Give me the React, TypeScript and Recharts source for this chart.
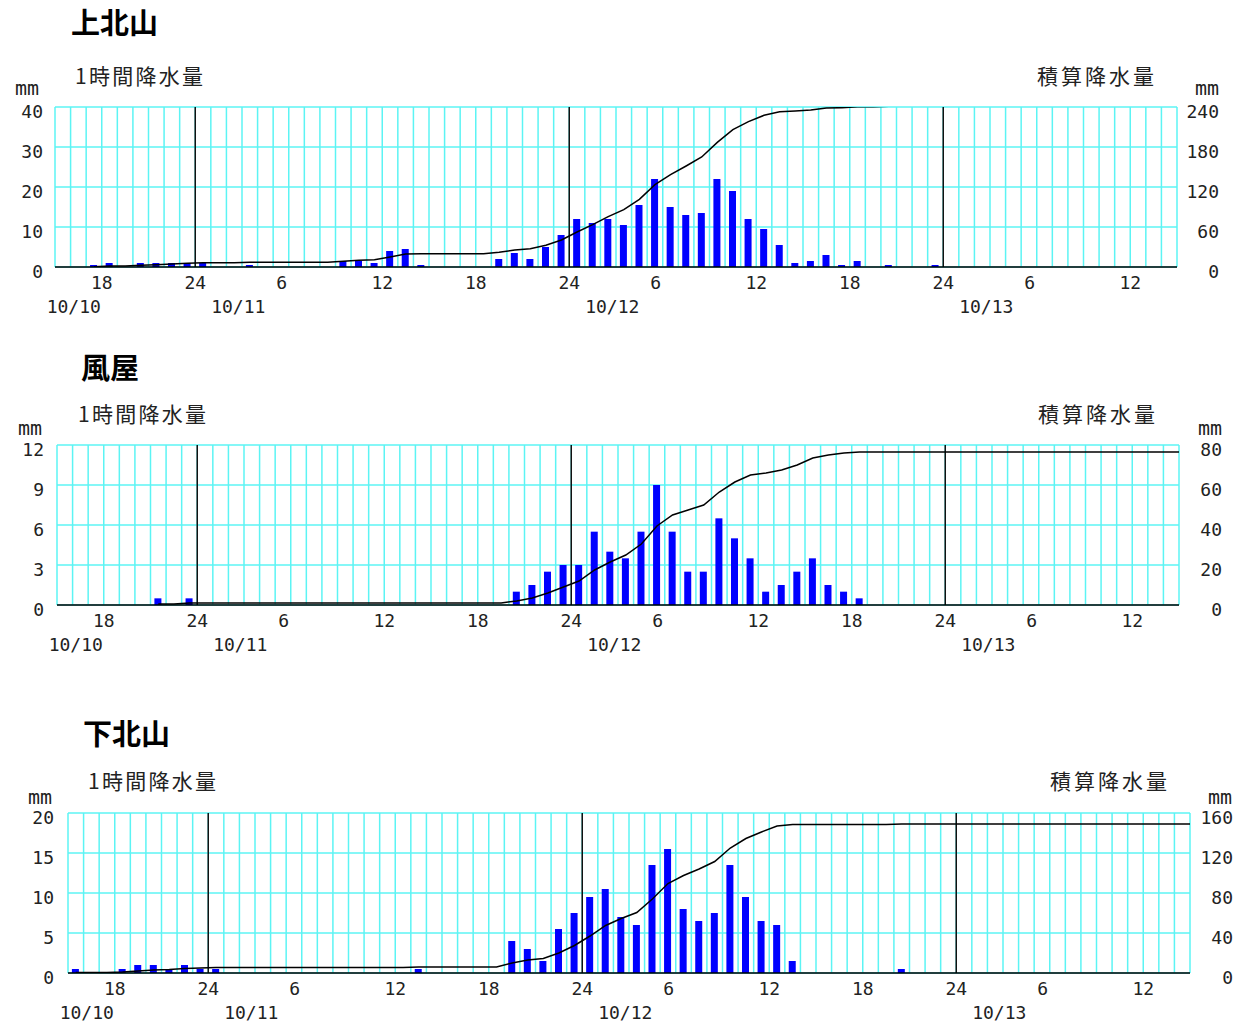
import React from 'react';
import {
  ComposedChart,
  Bar,
  Line,
  XAxis,
  YAxis,
  CartesianGrid,
  ReferenceLine,
} from 'recharts';

// first hourly slot is 10/10 15:00-16:00, 72 slots in all
const START_HOUR = 15;
const SLOTS = 72;
const days = ['10/10', '10/11', '10/12', '10/13'];

// hourly rainfall (mm), one value per slot, 12 slots per row
const kamikitayamaRain = [
  0, 0, 0.5, 1, 0, 1, 1, 1, 1, 1, 0, 0,
  0.5, 0, 0, 0, 0, 0, 1.5, 1.5, 1, 4, 4.5, 0.5,
  0, 0, 0, 0, 2, 3.5, 2, 5, 8, 12, 11, 12,
  10.5, 15.5, 22, 15, 13, 13.5, 22, 19, 12, 9.5, 5.5, 1,
  1.5, 3, 0.5, 1.5, 0, 0.5, 0, 0, 0.5, 0, 0, 0,
  0, 0, 0, 0, 0, 0, 0, 0, 0, 0, 0, 0,
];
const kazeyaRain = [
  0, 0, 0, 0, 0, 0, 0.5, 0, 0.5, 0, 0, 0,
  0, 0, 0, 0, 0, 0, 0, 0, 0, 0, 0, 0,
  0, 0, 0, 0, 0, 1, 1.5, 2.5, 3, 3, 5.5, 4,
  3.5, 5.5, 9, 5.5, 2.5, 2.5, 6.5, 5, 3.5, 1, 1.5, 2.5,
  3.5, 1.5, 1, 0.5, 0, 0, 0, 0, 0, 0, 0, 0,
  0, 0, 0, 0, 0, 0, 0, 0, 0, 0, 0, 0,
];
const shimokitayamaRain = [
  0.5, 0, 0, 0.5, 1, 1, 0.5, 1, 0.5, 0.5, 0, 0,
  0, 0, 0, 0, 0, 0, 0, 0, 0, 0, 0.5, 0,
  0, 0, 0, 0, 4, 3, 1.5, 5.5, 7.5, 9.5, 10.5, 7,
  6, 13.5, 15.5, 8, 6.5, 7.5, 13.5, 9.5, 6.5, 6, 1.5, 0,
  0, 0, 0, 0, 0, 0.5, 0, 0, 0, 0, 0, 0,
  0, 0, 0, 0, 0, 0, 0, 0, 0, 0, 0, 0,
];

const kamikitayamaHourlyTicks = [0, 10, 20, 30, 40];
const kamikitayamaTotalTicks = [0, 60, 120, 180, 240];
const kazeyaHourlyTicks = [0, 3, 6, 9, 12];
const kazeyaTotalTicks = [0, 20, 40, 60, 80];
const shimokitayamaHourlyTicks = [0, 5, 10, 15, 20];
const shimokitayamaTotalTicks = [0, 40, 80, 120, 160];

const GRID = '#5cf4f4';
const NUM_FONT = "'DejaVu Sans Mono', monospace";
const JP_FONT = "'Noto Sans CJK JP', sans-serif";

const hourTicks = Array.from({ length: SLOTS + 1 }, (_, i) => i);
const midnights = hourTicks.filter((t) => t > 0 && t < SLOTS && (START_HOUR + t) % 24 === 0);
const firstLabel = hourTicks.find((t) => t > 0 && (START_HOUR + t) % 6 === 0);

// bars sit in the middle of each hour slot, the total line runs from the first rain to the end
function buildRows(rain: number[]) {
  const first = rain.findIndex((v) => v > 0);
  let sum = 0;
  const rows = rain.map((v, k) => {
    sum += v;
    return { t: k + 0.5, rain: v > 0 ? v : null, cum: k >= first ? sum : null };
  });
  rows.push({ t: SLOTS, rain: null, cum: sum });
  return rows;
}

const renderHourTick = (props: any) => {
  const { x, y, payload } = props;
  const t = payload.value as number;
  const clock = START_HOUR + t;
  const hour = clock % 24;
  if (t <= 0 || t >= SLOTS || hour % 6 !== 0) return <g />;
  const label = hour === 0 ? '24' : String(hour);
  let date: string | null = null;
  let dateX = x;
  if (hour === 0) {
    date = days[Math.floor(clock / 24)];
    dateX = x + 43;
  } else if (t === firstLabel) {
    date = days[0];
    dateX = x - 28;
  }
  return (
    <g>
      <text x={label.length === 1 ? x - 7 : x} y={y + 22} textAnchor="middle" fontFamily={NUM_FONT} fontSize={18} fill="#222">
        {label}
      </text>
      {date && (
        <text x={dateX} y={y + 46} textAnchor="middle" fontFamily={NUM_FONT} fontSize={18} fill="#222">
          {date}
        </text>
      )}
    </g>
  );
};

const valueTick = (dx: number) => (props: any) => {
  const { x, y, payload } = props;
  return (
    <text x={x + dx} y={y + 11} textAnchor="end" fontFamily={NUM_FONT} fontSize={18} fill="#222">
      {payload.value}
    </text>
  );
};

interface PanelProps {
  rain: number[];
  hourlyTicks: number[];
  totalTicks: number[];
  plotTop: number;
  leftW: number;
  rightW: number;
  leftGap: number;
  rightGap: number;
}

const Panel: React.FC<PanelProps> = ({ rain, hourlyTicks, totalTicks, plotTop, leftW, rightW, leftGap, rightGap }) => {
  const rows = buildRows(rain);
  const hMax = hourlyTicks[hourlyTicks.length - 1];
  const tMax = totalTicks[totalTicks.length - 1];
  return (
    <div style={{ position: 'absolute', left: 0, top: plotTop - 5 }}>
      <ComposedChart width={1236} height={225} data={rows} margin={{ top: 5, right: 0, bottom: 0, left: 0 }}>
        <CartesianGrid yAxisId="l" stroke={GRID} strokeWidth={1.5} />
        <XAxis
          type="number"
          dataKey="t"
          domain={[0, SLOTS]}
          ticks={hourTicks}
          interval={0}
          allowDataOverflow
          height={60}
          tickLine={false}
          tickSize={0}
          tickMargin={0}
          axisLine={{ stroke: '#000', strokeWidth: 1.5 }}
          tick={renderHourTick}
        />
        <YAxis
          yAxisId="l"
          orientation="left"
          width={leftW}
          domain={[0, hMax]}
          ticks={hourlyTicks}
          interval={0}
          allowDataOverflow
          axisLine={false}
          tickLine={false}
          tickSize={0}
          tickMargin={0}
          tick={valueTick(-leftGap)}
        />
        <YAxis
          yAxisId="r"
          orientation="right"
          width={rightW}
          domain={[0, tMax]}
          ticks={totalTicks}
          interval={0}
          allowDataOverflow
          axisLine={false}
          tickLine={false}
          tickSize={0}
          tickMargin={0}
          tick={valueTick(rightGap)}
        />
        {midnights.map((t) => (
          <ReferenceLine key={t} x={t} yAxisId="l" stroke="#111" strokeWidth={1.5} />
        ))}
        <Bar dataKey="rain" yAxisId="l" fill="#0000ff" barSize={8} isAnimationActive={false} />
        <Line
          dataKey="cum"
          yAxisId="r"
          type="linear"
          stroke="#000"
          strokeWidth={1.5}
          dot={false}
          activeDot={false}
          isAnimationActive={false}
        />
      </ComposedChart>
    </div>
  );
};

interface Caption {
  title: string;
  titleX: number;
  titleY: number;
  labelY: number;
  hourlyX: number;
  totalX: number;
  mmLeftX: number;
  mmRightX: number;
  mmY: number;
}

const captions: Caption[] = [
  { title: '上北山', titleX: 71, titleY: 33.5, labelY: 83.5, hourlyX: 75, totalX: 1037, mmLeftX: 15, mmRightX: 1195, mmY: 95 },
  { title: '風屋', titleX: 81, titleY: 379, labelY: 421.5, hourlyX: 78, totalX: 1038, mmLeftX: 18, mmRightX: 1198, mmY: 435 },
  { title: '下北山', titleX: 83, titleY: 745, labelY: 788.5, hourlyX: 88, totalX: 1050, mmLeftX: 28, mmRightX: 1208, mmY: 804 },
];

export default function App() {
  return (
    <div style={{ position: 'absolute', left: 0, top: 0, width: 1236, height: 1024, background: '#fff' }}>
      <Panel rain={kamikitayamaRain} hourlyTicks={kamikitayamaHourlyTicks} totalTicks={kamikitayamaTotalTicks}
        plotTop={107} leftW={55} rightW={59} leftGap={12} rightGap={42} />
      <Panel rain={kazeyaRain} hourlyTicks={kazeyaHourlyTicks} totalTicks={kazeyaTotalTicks}
        plotTop={445} leftW={57} rightW={57} leftGap={13} rightGap={43} />
      <Panel rain={shimokitayamaRain} hourlyTicks={shimokitayamaHourlyTicks} totalTicks={shimokitayamaTotalTicks}
        plotTop={813} leftW={68} rightW={46} leftGap={14} rightGap={43} />
      <svg width={1236} height={1024} style={{ position: 'absolute', left: 0, top: 0, pointerEvents: 'none' }}>
        {captions.map((c) => (
          <g key={c.title}>
            <text x={c.titleX} y={c.titleY} fontFamily={JP_FONT} fontSize={29} fontWeight={700} fill="#000">
              {c.title}
            </text>
            <text x={c.hourlyX} y={c.labelY} fontFamily={JP_FONT} fontSize={21} fill="#222"
              textLength={128} lengthAdjust="spacing">
              1時間降水量
            </text>
            <text x={c.totalX} y={c.labelY} fontFamily={JP_FONT} fontSize={21} fill="#222"
              textLength={117} lengthAdjust="spacing">
              積算降水量
            </text>
            <text x={c.mmLeftX} y={c.mmY} fontFamily={NUM_FONT} fontSize={20} fill="#222">
              mm
            </text>
            <text x={c.mmRightX} y={c.mmY} fontFamily={NUM_FONT} fontSize={20} fill="#222">
              mm
            </text>
          </g>
        ))}
      </svg>
    </div>
  );
}
